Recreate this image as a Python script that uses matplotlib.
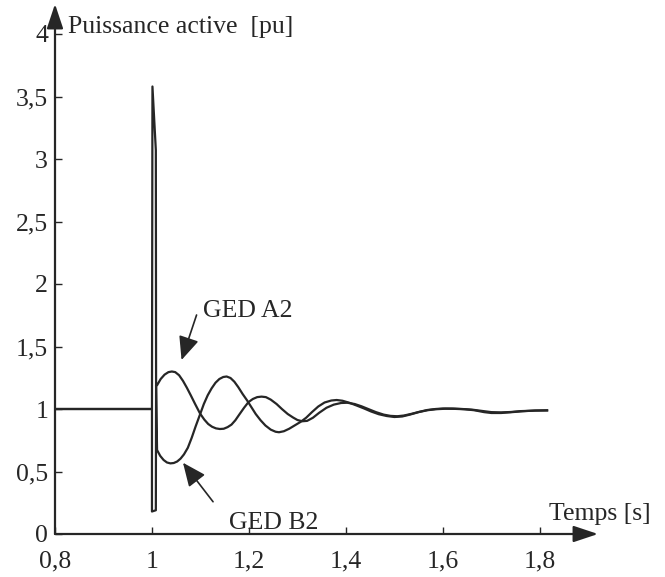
import matplotlib
matplotlib.use('Agg')
import matplotlib.pyplot as plt

# values (spike part first, then the swings)
t_a = [0.8, 1.0, 1.001, 1.008, 1.0085, 1.0105, 1.018, 1.026, 1.034, 1.041, 1.048, 1.056,
       1.064, 1.072, 1.080, 1.089, 1.099, 1.108, 1.116, 1.124, 1.132, 1.140, 1.148, 1.156,
       1.164, 1.172, 1.180, 1.190, 1.199, 1.208, 1.217, 1.226, 1.235, 1.245, 1.257, 1.268,
       1.280, 1.291, 1.300, 1.310, 1.320, 1.332, 1.345, 1.360, 1.375, 1.390, 1.403, 1.418,
       1.432, 1.446, 1.462, 1.478, 1.492, 1.506, 1.520, 1.536, 1.552, 1.568, 1.585, 1.600,
       1.620, 1.640, 1.660, 1.680, 1.700, 1.720, 1.740, 1.760, 1.790, 1.815]
p_a = [1.0, 1.0, 3.58, 3.07, 1.19, 1.19, 1.24, 1.275, 1.295, 1.30, 1.295, 1.27,
       1.225, 1.17, 1.11, 1.04, 0.965, 0.915, 0.88, 0.858, 0.845, 0.84, 0.842, 0.855,
       0.875, 0.91, 0.955, 1.01, 1.055, 1.08, 1.095, 1.099, 1.095, 1.075, 1.04, 1.0,
       0.96, 0.932, 0.912, 0.902, 0.905, 0.93, 0.97, 1.01, 1.035, 1.048, 1.05, 1.04,
       1.022, 1.0, 0.975, 0.955, 0.945, 0.942, 0.948, 0.962, 0.978, 0.992, 1.0, 1.004,
       1.004, 1.0, 0.995, 0.985, 0.975, 0.973, 0.976, 0.983, 0.987, 0.988]

t_b = [0.8, 1.0, 1.0, 1.008, 1.0085, 1.0105, 1.017, 1.024, 1.031, 1.038, 1.045, 1.052,
       1.059, 1.066, 1.074, 1.082, 1.090, 1.099, 1.107, 1.115, 1.123, 1.131, 1.139, 1.147,
       1.154, 1.162, 1.170, 1.178, 1.187, 1.196, 1.205, 1.214, 1.224, 1.234, 1.245, 1.255,
       1.262, 1.272, 1.283, 1.295, 1.307, 1.318, 1.330, 1.343, 1.356, 1.370, 1.381, 1.393,
       1.407, 1.422, 1.437, 1.452, 1.468, 1.484, 1.500, 1.516, 1.532, 1.550, 1.568, 1.585,
       1.605, 1.625, 1.645, 1.665, 1.685, 1.700, 1.720, 1.740, 1.765, 1.790, 1.815]
p_b = [1.0, 1.0, 0.18, 0.19, 1.19, 0.672, 0.625, 0.592, 0.572, 0.565, 0.568, 0.580,
       0.603, 0.637, 0.690, 0.77, 0.86, 0.955, 1.04, 1.11, 1.165, 1.21, 1.24, 1.256,
       1.26, 1.248, 1.218, 1.175, 1.12, 1.07, 1.015, 0.96, 0.91, 0.868, 0.835, 0.818,
       0.814, 0.822, 0.842, 0.87, 0.898, 0.93, 0.975, 1.02, 1.052, 1.068, 1.072, 1.066,
       1.05, 1.028, 1.005, 0.98, 0.958, 0.944, 0.936, 0.94, 0.955, 0.975, 0.99, 0.998,
       1.002, 1.001, 0.998, 0.99, 0.975, 0.968, 0.968, 0.974, 0.982, 0.988, 0.99]

x_ticks = [0.8, 1.0, 1.2, 1.4, 1.6, 1.8]
x_labels = ['0,8', '1', '1,2', '1,4', '1,6', '1,8']
y_ticks = [0, 0.5, 1, 1.5, 2, 2.5, 3, 3.5, 4]
y_labels = ['0', '0,5', '1', '1,5', '2', '2,5', '3', '3,5', '4']

plt.rcParams['font.family'] = ['Liberation Serif', 'DejaVu Serif']
ink = '#262626'
fs = 18.5

fig = plt.figure(figsize=(6.65, 5.77), dpi=100)
ax = fig.add_axes([55 / 665, 43 / 577, 543 / 665, 525 / 577])
ax.set_xlim(0.8, 1.92)
ax.set_ylim(0, 4.2)
for s in ax.spines.values():
    s.set_visible(False)

ax.plot(t_a, p_a, color=ink, lw=1.6, solid_joinstyle='round')
ax.plot(t_b, p_b, color=ink, lw=1.6, solid_joinstyle='round')

# axes drawn as arrows
arr = dict(arrowstyle='-|>,head_length=0.75,head_width=0.25', color=ink, lw=1.6,
           shrinkA=0, shrinkB=0, mutation_scale=20)
ax.annotate('', xy=(1.92, 0), xytext=(0.8, 0), arrowprops=arr, annotation_clip=False)
ax.annotate('', xy=(0.8, 4.24), xytext=(0.8, 0), arrowprops=arr, annotation_clip=False)

ax.set_xticks(x_ticks)
ax.set_xticklabels(x_labels)
ax.set_yticks(y_ticks)
ax.set_yticklabels(y_labels)
ax.tick_params(axis='x', direction='in', length=5, width=1, color=ink, pad=12,
               labelsize=fs, labelcolor=ink)
ax.tick_params(axis='y', direction='in', length=5, width=1, color=ink, pad=5,
               labelsize=fs, labelcolor=ink)

ax.text(0.827, 4.01, 'Puissance active  [pu]', fontsize=fs, color=ink, va='baseline')
ax.text(1.819, 0.11, 'Temps [s]', fontsize=fs, color=ink, va='baseline')
ax.text(1.105, 1.736, 'GED A2', fontsize=fs, color=ink, va='baseline')
ax.text(1.159, 0.04, 'GED B2', fontsize=fs, color=ink, va='baseline')

lab = dict(arrowstyle='-|>,head_length=0.8,head_width=0.35', color=ink, lw=1.2,
           shrinkA=0, shrinkB=0, mutation_scale=18)
ax.annotate('', xy=(1.061, 1.392), xytext=(1.092, 1.752), arrowprops=lab)
ax.annotate('', xy=(1.064, 0.57), xytext=(1.126, 0.258), arrowprops=lab)

fig.savefig('out.png', dpi=100)
